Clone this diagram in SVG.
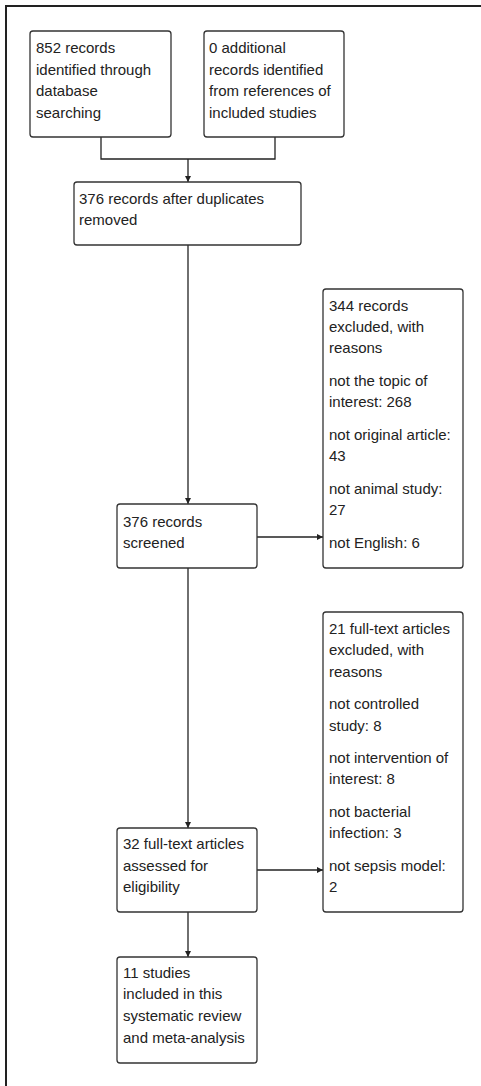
<svg xmlns="http://www.w3.org/2000/svg" width="481" height="1086" viewBox="0 0 481 1086">
<style>
.box{fill:#fff;stroke:#333;stroke-width:1.3}
.t{font-family:"Liberation Sans",Arial,sans-serif;font-size:15px;fill:#222}
.c{fill:none;stroke:#222;stroke-width:1.3}
</style>
<defs>
<marker id="ah" viewBox="0 0 10 10" refX="10" refY="5" markerWidth="6" markerHeight="6" markerUnits="userSpaceOnUse" orient="auto">
<path d="M0,0 L10,5 L0,10 z" fill="#222"/>
</marker>
</defs>
<rect width="481" height="1086" fill="#fff"/>
<path d="M6,1086 V6 H481" fill="none" stroke="#222" stroke-width="2"/>
<g id="connectors">
<path class="c" d="M101,137 V159 H275 V137"/>
<path class="c" d="M188,159 V182" marker-end="url(#ah)"/>
<path class="c" d="M188,245 V504" marker-end="url(#ah)"/>
<path class="c" d="M257,537 H323" marker-end="url(#ah)"/>
<path class="c" d="M188,568 V828" marker-end="url(#ah)"/>
<path class="c" d="M257,870 H323" marker-end="url(#ah)"/>
<path class="c" d="M188,912 V957" marker-end="url(#ah)"/>
</g>
<g id="n1">
<rect class="box" x="30" y="31" width="141" height="106" rx="3"/>
<text class="t" x="36"><tspan x="36" y="53">852 records</tspan><tspan x="36" y="75">identified through</tspan><tspan x="36" y="96">database</tspan><tspan x="36" y="118">searching</tspan></text>
</g>
<g id="n2">
<rect class="box" x="204" y="31" width="140" height="106" rx="3"/>
<text class="t"><tspan x="209" y="53">0 additional</tspan><tspan x="209" y="75">records identified</tspan><tspan x="209" y="96">from references of</tspan><tspan x="209" y="118">included studies</tspan></text>
</g>
<g id="n3">
<rect class="box" x="74" y="182" width="227" height="63" rx="3"/>
<text class="t"><tspan x="79" y="204">376 records after duplicates</tspan><tspan x="79" y="225">removed</tspan></text>
</g>
<g id="n4">
<rect class="box" x="117" y="504" width="140" height="64" rx="3"/>
<text class="t"><tspan x="123" y="527">376 records</tspan><tspan x="123" y="548">screened</tspan></text>
</g>
<g id="n5">
<rect class="box" x="323" y="289" width="140" height="279" rx="3"/>
<text class="t"><tspan x="329" y="311">344 records</tspan><tspan x="329" y="332">excluded, with</tspan><tspan x="329" y="353">reasons</tspan><tspan x="329" y="386">not the topic of</tspan><tspan x="329" y="407">interest: 268</tspan><tspan x="329" y="440">not original article:</tspan><tspan x="329" y="461">43</tspan><tspan x="329" y="494">not animal study:</tspan><tspan x="329" y="515">27</tspan><tspan x="329" y="548">not English: 6</tspan></text>
</g>
<g id="n6">
<rect class="box" x="323" y="612" width="140" height="300" rx="3"/>
<text class="t"><tspan x="329" y="634">21 full-text articles</tspan><tspan x="329" y="655">excluded, with</tspan><tspan x="329" y="677">reasons</tspan><tspan x="329" y="709">not controlled</tspan><tspan x="329" y="731">study: 8</tspan><tspan x="329" y="763">not intervention of</tspan><tspan x="329" y="784">interest: 8</tspan><tspan x="329" y="817">not bacterial</tspan><tspan x="329" y="838">infection: 3</tspan><tspan x="329" y="871">not sepsis model:</tspan><tspan x="329" y="892">2</tspan></text>
</g>
<g id="n7">
<rect class="box" x="117" y="828" width="140" height="84" rx="3"/>
<text class="t"><tspan x="123" y="849">32 full-text articles</tspan><tspan x="123" y="871">assessed for</tspan><tspan x="123" y="892">eligibility</tspan></text>
</g>
<g id="n8">
<rect class="box" x="117" y="957" width="140" height="106" rx="3"/>
<text class="t"><tspan x="123" y="978">11 studies</tspan><tspan x="123" y="999">included in this</tspan><tspan x="123" y="1021">systematic review</tspan><tspan x="123" y="1043">and meta-analysis</tspan></text>
</g>
</svg>
